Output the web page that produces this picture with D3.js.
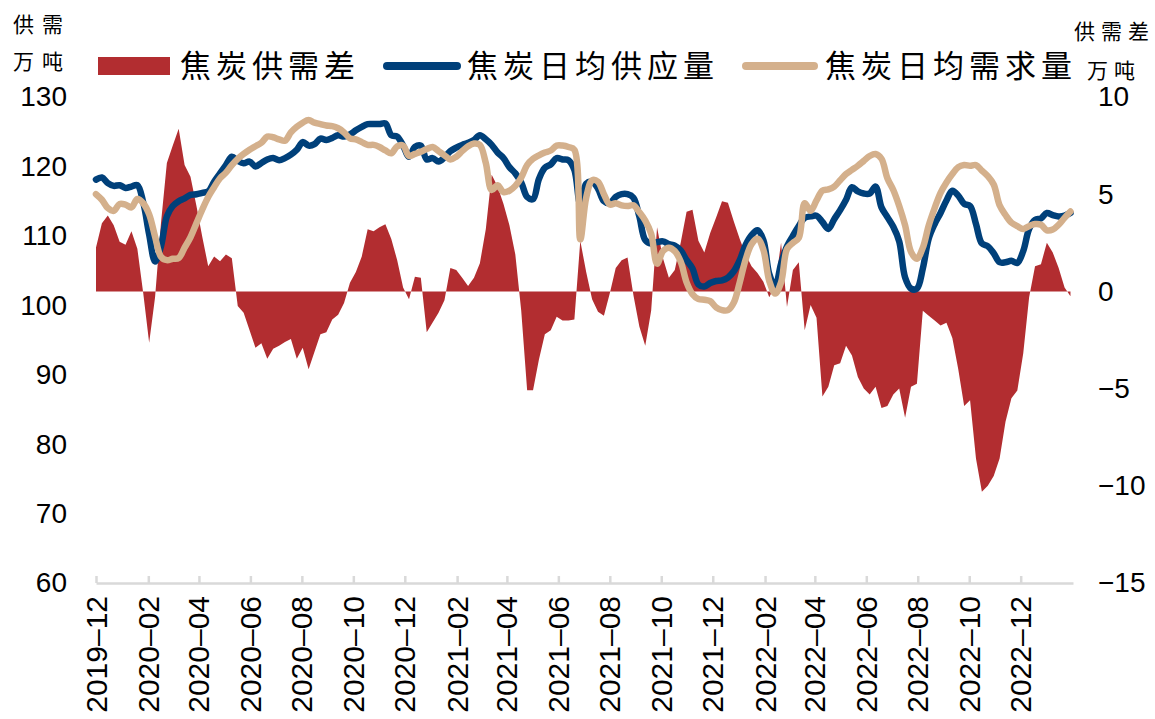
<!DOCTYPE html>
<html><head><meta charset="utf-8">
<script src="https://cdn.jsdelivr.net/npm/d3@7"></script>
<style>body{margin:0;background:#fff}svg{display:block}</style>
</head><body><svg id="c" width="1155" height="719"></svg>
<script>
// weekly series, first week 2019-12-01
const startDate = "2019-12-01";
const gap = [2.26,3.5,3.9,3.4,2.55,2.4,3.1,2.2,-0.1,-2.64,
-0.3,3.5,6.6,7.5,8.37,6.5,5.9,4.4,2.8,1.3,
1.8,1.55,1.9,1.7,-0.75,-1.1,-2.0,-2.9,-2.67,-3.46,
-2.95,-2.8,-2.6,-2.45,-3.46,-2.9,-4.0,-3.1,-2.2,-2.1,
-1.45,-1.2,-0.6,0.45,1.0,1.8,3.2,3.1,3.3,3.45,
2.7,1.6,0.2,-0.4,0.75,0.7,-2.1,-1.6,-1.1,-0.45,
1.2,1.1,0.7,0.28,0.7,1.45,3.2,6.0,5.4,4.5,
3.4,1.9,-1.0,-5.09,-5.09,-3.5,-2.2,-2.0,-1.3,-1.5,
-1.5,-1.45,2.6,1.0,-0.4,-1.05,-1.25,-0.1,1.2,1.6,
1.75,-0.2,-1.8,-2.8,-1.0,3.3,1.7,0.7,1.1,2.5,
4.1,4.2,2.6,2.0,3.0,3.8,4.64,4.56,3.6,2.7,
1.9,1.3,0.95,0.5,-0.3,0.3,2.5,-0.8,1.1,1.5,
-2.0,-0.7,-1.35,-5.4,-4.9,-3.8,-3.7,-2.8,-3.3,-4.4,
-5.0,-5.3,-4.9,-6.0,-5.9,-5.3,-5.0,-6.5,-4.9,-4.75,
-1.0,-1.25,-1.5,-1.75,-1.61,-2.4,-4.0,-5.9,-5.6,-8.6,
-10.3,-10.0,-9.5,-8.6,-6.7,-5.5,-5.1,-3.2,-0.3,1.3,
1.4,2.5,2.0,1.2,0.2,-0.25];
const supply = [118.1,118.4,117.6,117.2,117.3,116.9,117.1,117.3,114.8,110.2,
106.3,108.5,112.8,114.3,115.0,115.4,115.9,116.0,116.2,116.4,
117.8,119.0,120.2,121.4,120.8,120.45,120.7,120.0,120.5,121.0,
121.2,120.9,121.2,121.7,122.4,123.5,123.0,123.2,124.0,123.8,
124.1,124.5,124.3,124.6,125.2,125.7,126.1,126.1,126.1,126.2,
124.5,124.3,123.0,121.4,122.8,123.0,121.0,121.2,120.7,121.3,
122.2,122.7,123.1,123.4,123.8,124.5,123.9,123.1,122.0,121.2,
119.9,119.0,117.7,115.6,115.3,118.2,119.8,120.3,121.2,121.0,
120.9,119.5,114.5,117.5,117.8,116.8,115.0,114.7,115.6,116.0,
116.0,115.5,112.8,109.4,108.9,109.1,109.2,108.8,108.6,107.9,
106.5,105.3,103.0,102.7,103.2,103.5,103.6,104.0,104.9,106.5,
108.7,110.1,110.8,109.4,104.5,102.7,106.0,108.5,110.0,111.4,
112.6,112.8,112.9,112.0,111.0,112.4,113.7,115.2,117.0,116.4,
116.1,116.1,117.1,114.1,112.7,111.3,109.2,104.0,102.4,102.4,
105.3,109.6,111.7,113.3,115.1,116.5,115.8,114.6,114.3,111.7,
108.9,108.5,107.5,106.2,106.2,106.4,106.1,107.8,111.0,112.3,
112.5,113.3,113.0,112.8,112.9,113.3];
const demand = [116.0,115.2,114.0,113.6,114.6,114.5,114.1,115.3,114.7,113.1,
109.9,107.0,106.5,106.7,106.8,108.3,109.8,111.8,113.8,115.6,
117.0,118.3,119.1,120.2,121.1,121.8,122.4,122.9,123.4,124.3,
124.2,123.9,123.7,124.9,125.7,126.3,126.7,126.3,126.1,125.9,
125.8,125.5,124.9,124.05,123.9,123.5,123.1,123.1,122.8,122.3,
121.9,122.9,123.0,121.5,121.8,122.1,122.5,122.8,122.2,121.6,
121.0,121.4,122.2,122.9,123.3,123.1,120.5,116.6,117.3,116.3,
116.5,117.2,118.4,120.2,121.1,121.6,122.0,122.3,123.0,123.0,
122.8,122.4,109.5,115.5,118.0,117.8,116.0,114.5,114.7,114.4,
114.3,114.4,113.4,112.2,110.3,106.0,107.8,108.3,107.8,106.3,
103.3,101.6,100.9,100.8,100.6,99.7,99.3,99.3,100.4,103.3,
106.6,108.8,109.6,108.0,103.5,101.7,103.3,108.1,109.0,109.7,
114.7,113.6,115.1,116.5,116.7,117.1,118.0,118.9,119.5,120.1,
120.8,121.5,121.8,121.1,118.3,116.6,114.3,111.5,107.7,106.7,
108.3,111.5,114.0,116.2,117.7,118.9,119.9,120.2,120.1,120.2,
119.4,118.6,117.4,114.4,113.0,111.9,111.4,111.0,111.4,111.7,
111.6,110.8,110.9,111.6,112.6,113.5];
const xTickLabels = ["2019-12","2020-02","2020-04","2020-06","2020-08","2020-10","2020-12",
"2021-02","2021-04","2021-06","2021-08","2021-10","2021-12",
"2022-02","2022-04","2022-06","2022-08","2022-10","2022-12"];
const xDomain = ["2019-12-01","2023-02-01"];
const leftTicks = [60,70,80,90,100,110,120,130];
const rightTicks = [-15,-10,-5,0,5,10];
const seriesNames = ["焦炭供需差","焦炭日均供应量","焦炭日均需求量"];
const leftUnit = ["供需","万吨"];
const rightUnit = ["供需差","万吨"];

const parse = d3.timeParse("%Y-%m-%d");
const parseM = d3.timeParse("%Y-%m");
const t0 = parse(startDate);
const dates = gap.map((_, i) => d3.timeDay.offset(t0, 7 * i));

const svg = d3.select("#c");
const x = d3.scaleTime().domain(xDomain.map(parse)).range([96, 1073]);
const yL = d3.scaleLinear().domain([60, 130]).range([583, 97]);
const yR = d3.scaleLinear().domain([-15, 10]).range([583, 97]);

const RED = "#B22D30", BLUE = "#00407A", TAN = "#D4B08C";
const NUMF = "'Liberation Sans', Arial, sans-serif";
const CJK = "'Noto Sans CJK SC', sans-serif";

// area
svg.append("path")
  .datum(gap)
  .attr("fill", RED)
  .attr("d", d3.area()
    .x((d, i) => x(dates[i]))
    .y0(yR(0))
    .y1(d => yR(d)));

// lines
const line = (arr, sc) => d3.line()
  .x((d, i) => x(dates[i]))
  .y(d => sc(d))
  .curve(d3.curveCatmullRom.alpha(0.5))(arr);

svg.append("path").attr("d", line(supply, yL))
  .attr("fill", "none").attr("stroke", BLUE).attr("stroke-width", 6.5)
  .attr("stroke-linejoin", "round").attr("stroke-linecap", "round");
svg.append("path").attr("d", line(demand, yL))
  .attr("fill", "none").attr("stroke", TAN).attr("stroke-width", 6.5)
  .attr("stroke-linejoin", "round").attr("stroke-linecap", "round");

// x axis
const tickDates = xTickLabels.map(parseM);
const xAxis = svg.append("g").attr("transform", "translate(0,583)")
  .call(d3.axisBottom(x).tickValues(tickDates).tickSize(-7).tickSizeOuter(0).tickFormat(""));
xAxis.select(".domain").attr("stroke", "#d9d9d9").attr("stroke-width", 2.5);
xAxis.selectAll(".tick line").attr("stroke", "#d9d9d9").attr("stroke-width", 2.5);

svg.append("g").selectAll("text").data(tickDates).join("text")
  .attr("transform", d => `translate(${x(d)},596) rotate(-90)`)
  .attr("text-anchor", "end")
  .attr("dy", "0.35em")
  .attr("font-family", NUMF).attr("font-size", 30).attr("fill", "#000")
  .text((d, i) => xTickLabels[i].replace("-", "–"));

// left axis
const lAxis = svg.append("g").attr("transform", "translate(96,0)")
  .call(d3.axisLeft(yL).tickValues(leftTicks).tickSize(0).tickPadding(29));
lAxis.select(".domain").remove();
lAxis.selectAll("text").attr("font-family", NUMF).attr("font-size", 28).attr("fill", "#000");

// right axis
const rAxis = svg.append("g").attr("transform", "translate(1073,0)")
  .call(d3.axisRight(yR).tickValues(rightTicks).tickSize(0).tickPadding(25));
rAxis.select(".domain").remove();
rAxis.selectAll("text").attr("font-family", NUMF).attr("font-size", 28).attr("fill", "#000");

// unit labels (characters spaced individually, no trailing spacing)
const unit = (txt, xx, yy, fs, pitch) => {
  const t = svg.append("text")
    .attr("y", yy).attr("dy", "0.35em")
    .attr("font-family", CJK).attr("font-size", fs).attr("fill", "#000");
  t.selectAll("tspan").data(Array.from(txt)).join("tspan")
    .attr("x", (d, i) => xx + i * pitch).text(d => d);
};
unit(leftUnit[0], 13, 25, 21, 29);
unit(leftUnit[1], 13, 62, 21, 29);
unit(rightUnit[0], 1074, 32, 21, 27);
unit(rightUnit[1], 1087, 71, 21, 27);

// legend
const lg = svg.append("g");
lg.append("rect").attr("x", 98).attr("y", 57).attr("width", 72).attr("height", 18).attr("fill", RED);
lg.append("line").attr("x1", 387).attr("x2", 457).attr("y1", 66).attr("y2", 66)
  .attr("stroke", BLUE).attr("stroke-width", 8).attr("stroke-linecap", "round");
lg.append("line").attr("x1", 746).attr("x2", 814).attr("y1", 66).attr("y2", 66)
  .attr("stroke", TAN).attr("stroke-width", 8).attr("stroke-linecap", "round");
const legX = [180, 467, 825];
seriesNames.forEach((s, i) => {
  lg.append("text").attr("x", legX[i]).attr("y", 66).attr("dy", "0.36em")
    .attr("font-family", CJK).attr("font-size", 31).attr("letter-spacing", 5)
    .attr("fill", "#000").text(s);
});
</script>
</body></html>
